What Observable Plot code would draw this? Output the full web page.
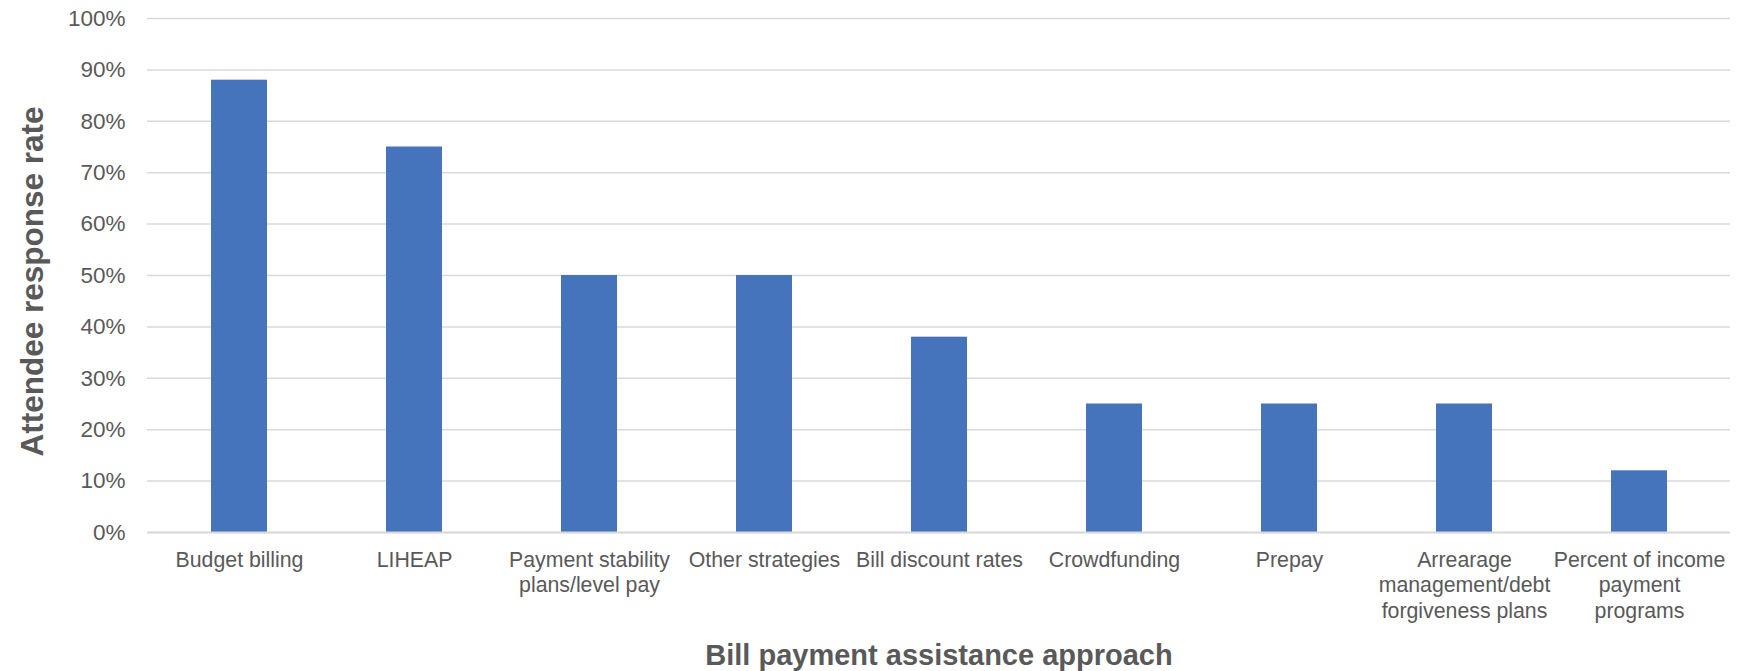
<!DOCTYPE html>
<html>
<head>
<meta charset="utf-8">
<script src="https://cdn.jsdelivr.net/npm/d3@7"></script>
<script src="https://cdn.jsdelivr.net/npm/@observablehq/plot@0.6"></script>
<style>
  html, body { margin: 0; padding: 0; background: #fff; }
  #chart { width: 1743px; height: 671px; }
</style>
</head>
<body>
<div id="chart"></div>
<script>
const categories = [
  "Budget billing",
  "LIHEAP",
  "Payment stability plans/level pay",
  "Other strategies",
  "Bill discount rates",
  "Crowdfunding",
  "Prepay",
  "Arrearage management/debt forgiveness plans",
  "Percent of income payment programs"
];
const values = [88, 75, 50, 50, 38, 25, 25, 25, 12];
const tickLabels = [
  "Budget billing",
  "LIHEAP",
  "Payment stability\nplans/level pay",
  "Other strategies",
  "Bill discount rates",
  "Crowdfunding",
  "Prepay",
  "Arrearage\nmanagement/debt\nforgiveness plans",
  "Percent of income\npayment\nprograms"
];
const yTicks = [0, 10, 20, 30, 40, 50, 60, 70, 80, 90, 100];
const xTitle = "Bill payment assistance approach";
const yTitle = "Attendee response rate";

const data = categories.map((c, i) => ({category: c, value: values[i]}));
const labelOf = new Map(categories.map((c, i) => [c, tickLabels[i]]));

const chart = Plot.plot({
  width: 1743,
  height: 671,
  marginLeft: 147,
  marginRight: 13,
  marginTop: 18,
  marginBottom: 139,
  style: {fontFamily: "'Liberation Sans', Arial, sans-serif", background: "#fff"},
  x: {domain: categories, paddingInner: 0.68, paddingOuter: 0.34, axis: null},
  y: {domain: [0, 100], axis: null},
  marks: [
    Plot.gridY(yTicks, {stroke: "#d9d9d9", strokeOpacity: 1, strokeWidth: 1.5}),
    Plot.barY(data, {x: "category", y: "value", fill: "#4674bc"}),
    Plot.ruleY([0], {stroke: "#d9d9d9", strokeWidth: 2}),
    Plot.axisY(yTicks, {
      tickSize: 0, tickPadding: 22, label: null,
      tickFormat: d => d + "%", fontSize: 22.5, fill: "#595959"
    }),
    Plot.axisX({
      tickSize: 0, tickPadding: 17, label: null,
      tickFormat: d => labelOf.get(d), fontSize: 21.3, fill: "#595959",
      lineHeight: 1.18
    }),
    Plot.text([xTitle], {
      frameAnchor: "bottom", dy: 132, fontSize: 29, fontWeight: "bold", fill: "#595959"
    }),
    Plot.text([yTitle], {
      frameAnchor: "left", textAnchor: "middle", dx: -115, dy: 6, rotate: -90,
      fontSize: 31.5, fontWeight: "bold", fill: "#595959"
    })
  ]
});
document.getElementById("chart").appendChild(chart);
</script>
</body>
</html>
